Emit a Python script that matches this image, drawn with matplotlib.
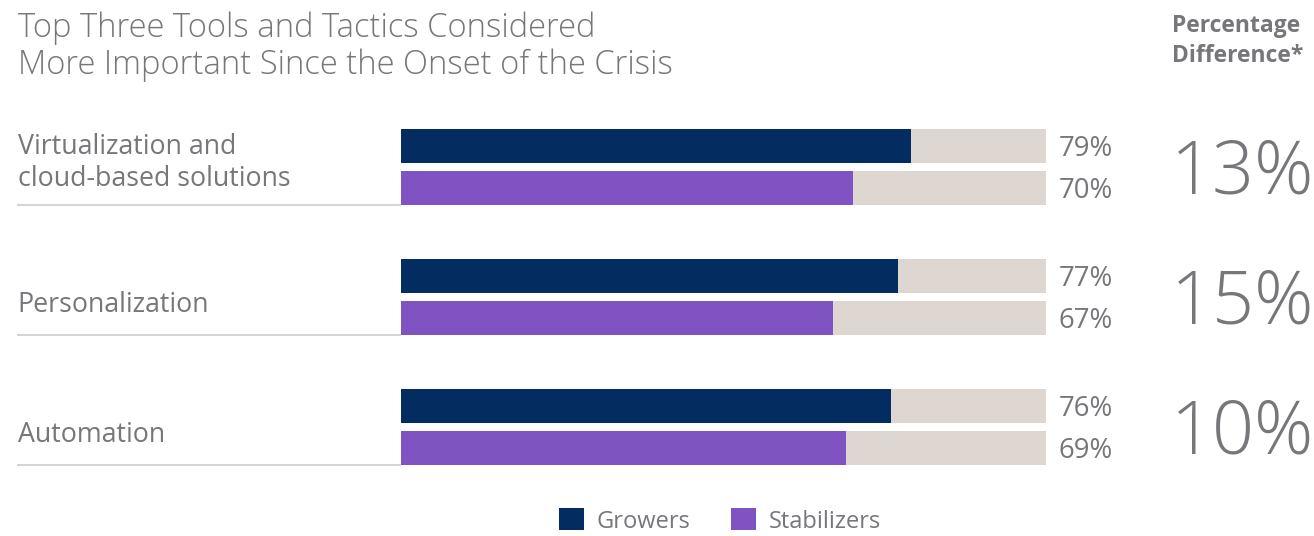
import matplotlib.pyplot as plt
from matplotlib.patches import Patch
import numpy as np

W, H = 1314, 536

categories = ["Virtualization and\ncloud-based solutions", "Personalization", "Automation"]
growers = [79, 77, 76]
stabilizers = [70, 67, 69]
difference = ["13%", "15%", "10%"]

NAVY = "#032d60"
PURPLE = "#7f53c2"
TRACK = "#ded7d1"
GREY = "#76767b"
RULE = "#d8d4d1"
FONT = "Open Sans"

plt.rcParams["font.family"] = [FONT, "DejaVu Sans"]


def fx(px):
    return px / W


def fy(py):
    return 1 - py / H


fig = plt.figure(figsize=(W / 100, H / 100), dpi=100)

# bar area: 0..100 across x, one unit per category in y
ax = fig.add_axes([fx(401), fy(492), fx(1046) - fx(401), (492 - 102) / H])
ax.set_xlim(0, 100)
ax.set_ylim(2.5, -0.5)
ax.axis("off")

y = np.arange(len(categories))
off = 21 / 130
bh = 34 / 130

ax.barh(y - off, [100] * len(y), height=bh, color=TRACK, linewidth=0)
ax.barh(y + off, [100] * len(y), height=bh, color=TRACK, linewidth=0)
ax.barh(y - off, growers, height=bh, color=NAVY, linewidth=0)
ax.barh(y + off, stabilizers, height=bh, color=PURPLE, linewidth=0)

for i in range(len(y)):
    ax.text(101.9, y[i] - off + 0.02, f"{growers[i]}%", va="center", ha="left",
            fontsize=19.8, color=GREY)
    ax.text(101.9, y[i] + off + 0.02, f"{stabilizers[i]}%", va="center", ha="left",
            fontsize=19.8, color=GREY)
    ax.text(141.6, y[i] + 0.06, difference[i], va="center", ha="right",
            fontsize=53, color=GREY, fontweight="light")
    # category label and rule underneath
    nudge = -0.03 if "\n" in categories[i] else 0.06
    ax.text(-59.4, y[i] + nudge, categories[i], va="center", ha="left",
            fontsize=19.3, color=GREY, linespacing=1.2)
    ax.plot([-59.6, 0], [y[i] + off + bh / 2] * 2, color=RULE, lw=1.5,
            clip_on=False, solid_capstyle="butt")

fig.text(fx(18), fy(47), "Top Three Tools and Tactics Considered\n"
         "More Important Since the Onset of the Crisis",
         va="center", ha="left", fontsize=23.6, color=GREY, fontweight="light",
         linespacing=1.15)
fig.text(fx(1172), fy(41), "Percentage\nDifference*", va="center", ha="left",
         fontsize=16.5, color=GREY, fontweight="bold", linespacing=1.35)

handles = [Patch(facecolor=NAVY, label="Growers"),
           Patch(facecolor=PURPLE, label="Stabilizers")]
fig.legend(handles=handles, ncol=2, frameon=False, loc="center",
           bbox_to_anchor=(fx(720), fy(521)), fontsize=17, labelcolor=GREY,
           handlelength=1.05, handleheight=1.05, handletextpad=0.55,
           columnspacing=1.7)

fig.savefig("out.png", dpi=100, facecolor="white")
